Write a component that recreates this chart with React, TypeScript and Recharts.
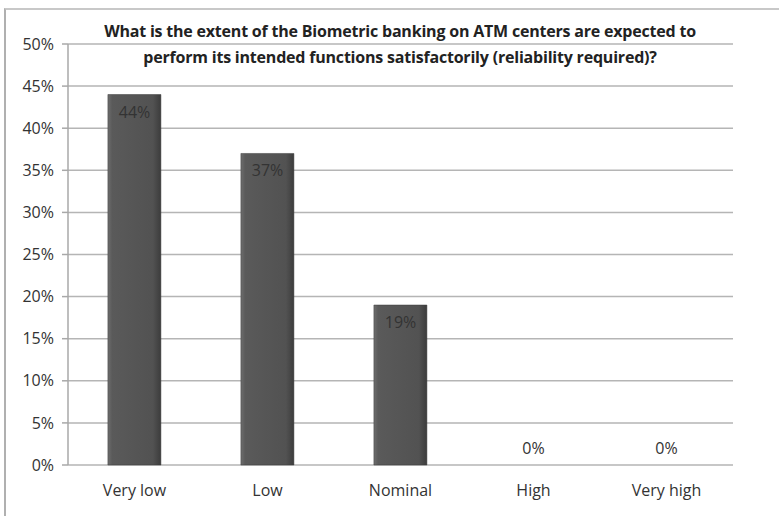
import React from 'react';
import { ComposedChart, Bar, Line, XAxis, YAxis, CartesianGrid, LabelList } from 'recharts';

const categories = ['Very low', 'Low', 'Nominal', 'High', 'Very high'];
const shares = [0.44, 0.37, 0.19, 0, 0];
const yTicks = [0, 0.05, 0.1, 0.15, 0.2, 0.25, 0.3, 0.35, 0.4, 0.45, 0.5];
const boundaryTicks = [0, 1, 2, 3, 4, 5];

const data = categories.map((name, i) => ({ name, value: shares[i] }));

const FONT = '"Open Sans", sans-serif';
const pct = (v: number) => `${Math.round(v * 100)}%`;

// label sits inside the top of a bar, or just above the axis for zero bars
const ValueLabel = (props: any) => {
  const { x, y, value } = props;
  const ty = value === 0 ? y - 17 : y + 17;
  return (
    <text x={x} y={ty} textAnchor="middle" dominantBaseline="central" fill="#333" fontSize={16} fontFamily={FONT}>
      {pct(value)}
    </text>
  );
};

export default function App() {
  return (
    <div
      style={{
        position: 'absolute',
        left: 0,
        top: 0,
        width: 779,
        height: 516,
        background: '#fff',
        fontFamily: FONT,
      }}
    >
      <div
        style={{
          position: 'absolute',
          left: 4,
          top: 8,
          right: 0,
          bottom: 0,
          borderTop: '2px solid #c8c8c8',
          borderLeft: '2px solid #b0b0b0',
        }}
      />
      <ComposedChart
        width={779}
        height={516}
        data={data}
        margin={{ top: 44, right: 46, bottom: 21, left: 8 }}
        barCategoryGap="30%"
      >
        <defs>
          <linearGradient id="barFill" x1="0" y1="0" x2="1" y2="0">
            <stop offset="0%" stopColor="#6e6e6e" />
            <stop offset="8%" stopColor="#5a5a5a" />
            <stop offset="85%" stopColor="#525252" />
            <stop offset="100%" stopColor="#3c3c3c" />
          </linearGradient>
        </defs>
        <CartesianGrid vertical={false} stroke="#b5b5b5" strokeWidth={1.5} />
        <XAxis
          xAxisId="edges"
          type="number"
          domain={[0, 5]}
          ticks={boundaryTicks}
          height={0}
          tick={false}
          tickSize={6}
          axisLine={{ stroke: '#a8a8a8', strokeWidth: 1.5 }}
          tickLine={{ stroke: '#a8a8a8', strokeWidth: 1.5 }}
          allowDataOverflow
        />
        <XAxis
          dataKey="name"
          height={30}
          axisLine={false}
          tickLine={false}
          tickMargin={14}
          tick={{ fill: '#333', fontSize: 16, fontFamily: FONT }}
        />
        <YAxis
          domain={[0, 0.5]}
          ticks={yTicks}
          width={60}
          tickFormatter={pct}
          tickSize={6}
          tickMargin={8}
          axisLine={{ stroke: '#a8a8a8', strokeWidth: 1.5 }}
          tickLine={{ stroke: '#a8a8a8', strokeWidth: 1.5 }}
          tick={{ fill: '#333', fontSize: 16, fontFamily: FONT }}
        />
        <Bar dataKey="value" fill="url(#barFill)" stroke="#3a3a3a" strokeWidth={0.5} isAnimationActive={false} />
        <Line dataKey="value" stroke="none" dot={false} activeDot={false} isAnimationActive={false}>
          <LabelList dataKey="value" content={ValueLabel} />
        </Line>
      </ComposedChart>
      <div
        style={{
          position: 'absolute',
          left: 0,
          width: 800,
          top: 18,
          textAlign: 'center',
          fontWeight: 'bold',
          fontSize: 16,
          lineHeight: '26px',
          color: '#222',
          fontFamily: FONT,
          letterSpacing: -0.2,
        }}
      >
        What is the extent of the Biometric banking on ATM centers are expected to
        <br />
        perform its intended functions satisfactorily (reliability required)?
      </div>
    </div>
  );
}
